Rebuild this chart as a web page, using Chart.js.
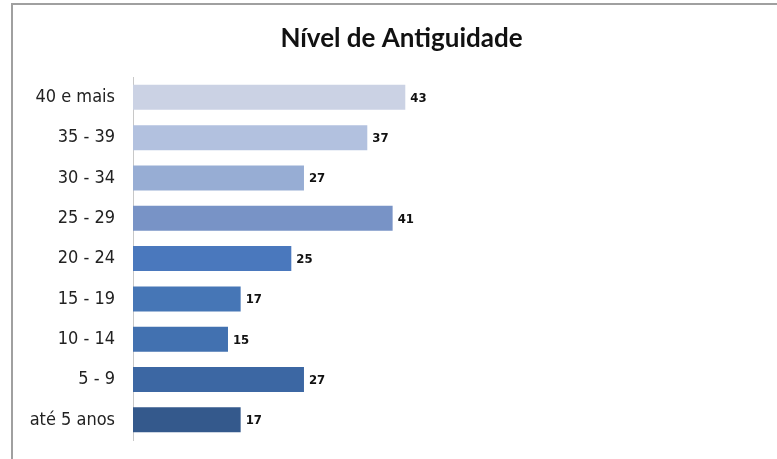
<!DOCTYPE html>
<html>
<head>
<meta charset="utf-8">
<script src="https://cdn.jsdelivr.net/npm/chart.js@4/dist/chart.umd.min.js"></script>
<style>
  html, body { margin: 0; padding: 0; background: #fff; }
  #wrap { position: relative; width: 777px; height: 459px; overflow: hidden; }
  #frame { position: absolute; left: 11px; top: 3px; width: 800px; height: 500px;
           border-left: 2px solid #a0a0a0; border-top: 2px solid #a0a0a0; }
  canvas { position: absolute; left: 0; top: 0; }
</style>
</head>
<body>
<div id="wrap">
  <div id="frame"></div>
  <canvas id="antiguidade" width="777" height="459"></canvas>
</div>
<script>
const faixas = ['40 e mais', '35 - 39', '30 - 34', '25 - 29', '20 - 24', '15 - 19', '10 - 14', '5 - 9', 'até 5 anos'];
const totais = [43, 37, 27, 41, 25, 17, 15, 27, 17];
const cores = ['#cbd2e4', '#b2c1df', '#97add4', '#7893c6', '#4a78bd', '#4676b6', '#4271b0', '#3c67a3', '#34598c'];

// value labels at the end of each bar
const rotulos = {
  id: 'rotulos',
  afterDatasetsDraw(chart) {
    const ctx = chart.ctx;
    const meta = chart.getDatasetMeta(0);
    ctx.save();
    ctx.font = 'bold 13px "DejaVu Sans Condensed", "DejaVu Sans"';
    ctx.fillStyle = '#111';
    ctx.textAlign = 'left';
    ctx.textBaseline = 'middle';
    meta.data.forEach((bar, i) => {
      ctx.fillText(String(totais[i]), bar.x + 5, bar.y + 1);
    });
    ctx.restore();
  }
};

new Chart(document.getElementById('antiguidade'), {
  type: 'bar',
  data: {
    labels: faixas,
    datasets: [{
      data: totais,
      backgroundColor: cores,
      borderWidth: 0,
      barPercentage: 0.62,
      categoryPercentage: 1
    }]
  },
  options: {
    indexAxis: 'y',
    responsive: false,
    animation: false,
    layout: { padding: { left: 26, right: 0, top: 0, bottom: 19 } },
    plugins: {
      legend: { display: false },
      tooltip: { enabled: false },
      title: {
        display: true,
        text: 'Nível de Antiguidade',
        color: '#111',
        font: { family: 'Lato', size: 26, weight: 'bold' },
        padding: { top: 23, bottom: 23 }
      }
    },
    scales: {
      x: { display: false, min: 0, max: 101.7 },
      y: {
        afterFit(scale) {
          scale.width = 107;
          scale.paddingTop = 0;
          scale.paddingBottom = 0;
        },
        grid: { display: false, drawTicks: false },
        border: { display: true, color: '#c8c8c8', width: 1 },
        ticks: {
          color: '#222',
          padding: 18,
          font: { family: '"DejaVu Sans Condensed", "DejaVu Sans"', size: 18 }
        }
      }
    }
  },
  plugins: [rotulos]
});
</script>
</body>
</html>
